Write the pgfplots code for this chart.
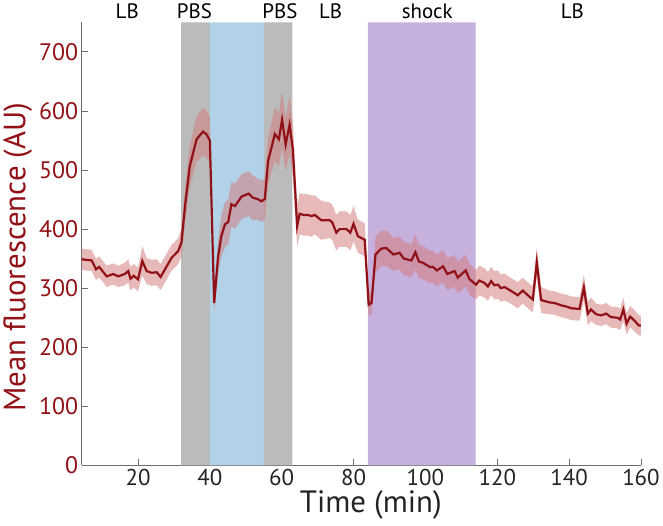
\documentclass[border=0pt]{standalone}
\usepackage{fontspec}
\setmainfont{PT Sans}
\usepackage{pgfplots}
\pgfplotsset{compat=1.18}
\usepgfplotslibrary{fillbetween}
\usepackage{pgfplotstable}
\definecolor{lineRed}{RGB}{145,17,22}
\definecolor{bandRed}{RGB}{211,123,123}
\definecolor{pbsGray}{RGB}{187,187,187}
\definecolor{lbBlue}{RGB}{178,210,232}
\definecolor{shockPurple}{RGB}{197,176,222}
\definecolor{axGray}{RGB}{110,110,110}
\definecolor{tickBlack}{RGB}{35,35,35}
\pgfplotstableread{
t v e
4.3 349 18
5.5 348 18
7.1 347 18
8.3 332 18
9.2 336 18
11.3 320 18
13.1 324 18
14.5 320 18
16.3 324 19
17.3 329 20
17.9 316 20
18.8 321 20
20.0 315 20
21.2 346 25
22.4 329 22
23.8 326 22
25.2 327 22
26.3 319 22
27.7 334 22
29.3 351 22
31.2 363 22
32.1 378 24
33.2 445 30
34.4 506 35
36.3 552 38
38.1 565 40
39.1 560 40
40.0 550 40
41.2 275 15
42.3 354 30
43.2 388 35
44.2 408 38
45.1 412 38
46.0 442 38
47.0 439 38
48.8 455 38
50.8 460 38
52.0 453 38
53.2 451 35
54.4 447 35
55.3 451 35
56.2 515 40
58.1 561 45
59.2 552 45
60.1 585 48
61.1 543 45
62.2 577 48
63.1 535 45
64.3 405 35
65.0 426 35
66.1 424 35
67.3 424 35
68.3 422 35
69.2 424 33
71.0 415 33
73.4 415 30
74.1 411 30
75.2 394 30
76.1 400 30
78.0 400 30
79.1 394 30
80.0 409 30
81.2 388 28
83.1 382 28
84.2 272 18
85.0 275 20
86.1 357 30
87.7 367 30
89.1 368 30
91.1 357 28
92.8 360 28
94.0 350 28
96.1 347 28
97.2 361 30
98.2 345 28
99.3 343 28
101.2 336 27
102.1 336 27
103.2 330 27
104.9 337 27
106.1 324 27
108.1 329 27
109.0 318 27
111.2 330 27
112.3 315 26
114.1 306 25
115.0 313 25
116.4 309 25
117.4 303 24
118.3 312 24
119.2 305 24
120.2 306 24
121.0 300 23
122.0 302 23
123.4 297 22
124.7 292 22
125.7 288 22
127.1 296 22
128.5 288 22
129.9 281 22
131.0 344 25
132.2 280 22
134.5 276 20
135.9 275 20
137.8 271 20
139.2 269 20
140.6 266 20
142.9 265 20
144.1 301 22
145.2 257 20
146.1 264 20
147.5 256 18
148.9 254 18
150.3 257 18
151.7 251 18
153.5 250 18
154.2 247 18
155.1 264 20
156.0 240 18
157.0 252 18
158.2 245 18
159.4 237 17
160.0 237 17
}\data
\begin{document}
\begin{tikzpicture}
\begin{axis}[
 at={(0,0)}, anchor=south west,
 scale only axis, width=560bp, height=443.7bp,
 xmin=4.3, xmax=160, ymin=0, ymax=750,
 axis x line=bottom, axis y line=left,
 axis line style={axGray, line width=0.8bp, -},
 xtick={20,40,...,160}, ytick={0,100,...,700},
 tick align=inside, major tick length=6bp,
 tick style={axGray, line width=0.8bp},
 x tick label style={font=\fontsize{23}{27}\selectfont, text=tickBlack},
 y tick label style={font=\fontsize{24}{28}\selectfont, text=lineRed},
 /pgf/number format/assume math mode=true,
 xlabel={Time (min)}, ylabel={Mean fluorescence (AU)},
 xlabel style={font=\fontsize{31}{36}\selectfont, text=tickBlack, at={(axis description cs:0.517,-0.088)}, anchor=center},
 ylabel style={font=\fontsize{31}{36}\selectfont, text=lineRed, at={(axis description cs:-0.114,0.470)}, anchor=center},
 clip=false,
]
\addplot[fill=pbsGray, draw=none, forget plot] coordinates {(32,0) (32,750) (40,750) (40,0)} \closedcycle;
\addplot[fill=lbBlue, draw=none, forget plot] coordinates {(40,0) (40,750) (55,750) (55,0)} \closedcycle;
\addplot[fill=pbsGray, draw=none, forget plot] coordinates {(55,0) (55,750) (63,750) (63,0)} \closedcycle;
\addplot[fill=shockPurple, draw=none, forget plot] coordinates {(84,0) (84,750) (114,750) (114,0)} \closedcycle;
\addplot[name path=up, draw=none, forget plot] table[x=t, y expr=\thisrow{v}+\thisrow{e}] {\data};
\addplot[name path=down, draw=none, forget plot] table[x=t, y expr=\thisrow{v}-\thisrow{e}] {\data};
\addplot[bandRed, fill opacity=0.53, draw=none, forget plot] fill between[of=up and down, on layer=main];
\addplot[lineRed, line width=2.2bp] table[x=t, y=v] {\data};
\node[font=\fontsize{21}{25}\selectfont, anchor=base, yshift=3.5bp] at (axis cs:17,750) {LB};
\node[font=\fontsize{21}{25}\selectfont, anchor=base, yshift=3.5bp] at (axis cs:35.7,750) {PBS};
\node[font=\fontsize{21}{25}\selectfont, anchor=base, yshift=3.5bp] at (axis cs:59.5,750) {PBS};
\node[font=\fontsize{21}{25}\selectfont, anchor=base, yshift=3.5bp] at (axis cs:73.6,750) {LB};
\node[font=\fontsize{21}{25}\selectfont, anchor=base, yshift=3.5bp] at (axis cs:100.5,750) {shock};
\node[font=\fontsize{21}{25}\selectfont, anchor=base, yshift=3.5bp] at (axis cs:140.9,750) {LB};
\end{axis}
\path (-81.7bp,-60bp) rectangle (581.3bp,466bp);
\end{tikzpicture}
\end{document}
